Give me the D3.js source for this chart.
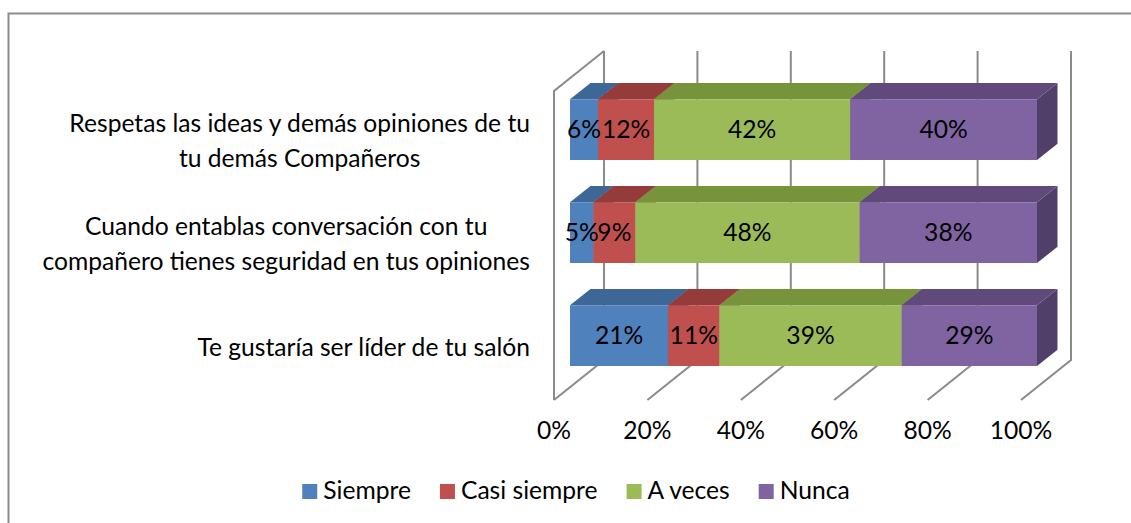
<!doctype html>
<html>
<head>
  <meta charset="utf-8">
  <style>
    body { margin:0; background:#fff; }
    svg text { font-family: Lato, Carlito, Calibri, "Noto Sans", sans-serif; fill:#000; }
  </style>
  <script src="https://d3js.org/d3.v7.min.js"></script>
</head>
<body>
  <script type="text/javascript">
    // chart values
    var categories = [
      "Respetas las ideas y demás opiniones de tu\ntu demás Compañeros",
      "Cuando entablas conversación con tu\ncompañero tienes seguridad en tus opiniones",
      "Te gustaría ser líder de tu salón"
    ];
    var seriesNames = ["Siempre", "Casi siempre", "A veces", "Nunca"];
    var siempre     = [6, 5, 21];
    var casiSiempre = [12, 9, 11];
    var aVeces      = [42, 48, 39];
    var nunca       = [40, 38, 29];
    var tickValues  = [0, 0.2, 0.4, 0.6, 0.8, 1];

    var frontColors = ["#4F81BD", "#C0504D", "#9BBB59", "#8064A2"];
    var topColors   = ["#3D6796", "#953C3A", "#77933C", "#604A7B"];
    var sideColors  = ["#395E8A", "#8A3735", "#6D8836", "#503F68"];

    var width = 1131, height = 523;

    var svg = d3.select("body")
      .append("svg")
        .attr("width", width)
        .attr("height", height);

    // chart border
    svg.append("rect")
      .attr("x", 8.5).attr("y", 13.5)
      .attr("width", 1200).attr("height", 600)
      .attr("fill", "none")
      .attr("stroke", "#8c8c8c")
      .attr("stroke-width", 2);

    // pick a font size so the text widths match the original (Calibri ~26px)
    var probe = svg.append("text").style("font-size", "25px")
      .text("compañero tienes seguridad en tus opiniones");
    var fs = 25 * 488 / probe.node().getComputedTextLength();
    probe.remove();

    // 3d frame: front plane and depth offset
    var DX = 50, DY = 40, Z1 = 0.32, Z2 = 0.73;
    var x = d3.scaleLinear().domain([0, 1]).range([554, 1021]);
    var y = d3.scaleBand().domain(d3.range(categories.length))
      .range([91, 400]).paddingInner(0.41).paddingOuter(0.205);
    var floorY = y.range()[1], topY = y.range()[0];

    function proj(v, yy, z) { return [x(v) + z * DX, yy - z * DY]; }

    var grid = svg.append("g")
      .attr("stroke", "#8a8a8a")
      .attr("stroke-width", 2)
      .attr("fill", "none");

    // left wall edges
    grid.append("polyline")
      .attr("points", [proj(0, floorY, 0), proj(0, topY, 0), proj(0, topY, 1)].join(" "));

    // back wall gridlines + floor lines
    tickValues.forEach(function(t) {
      grid.append("polyline")
        .attr("points", [proj(t, floorY, 0), proj(t, floorY, 1), proj(t, topY, 1)].join(" "));
    });

    // stacked data
    var table = categories.map(function(c, i) {
      return { cat: i, "Siempre": siempre[i], "Casi siempre": casiSiempre[i],
               "A veces": aVeces[i], "Nunca": nunca[i] };
    });
    var stacked = d3.stack().keys(seriesNames).offset(d3.stackOffsetExpand)(table);

    var bars = svg.append("g");
    categories.forEach(function(c, i) {
      var yt = y(i), yb = y(i) + y.bandwidth();
      stacked.forEach(function(s, k) {
        var v0 = s[i][0], v1 = s[i][1];
        var g = bars.append("g");
        g.append("polygon")
          .attr("fill", sideColors[k])
          .attr("points", [proj(v1, yt, Z1), proj(v1, yt, Z2), proj(v1, yb, Z2), proj(v1, yb, Z1)].join(" "));
        g.append("polygon")
          .attr("fill", topColors[k])
          .attr("points", [proj(v0, yt, Z1), proj(v1, yt, Z1), proj(v1, yt, Z2), proj(v0, yt, Z2)].join(" "));
        g.append("polygon")
          .attr("fill", frontColors[k])
          .attr("points", [proj(v0, yt, Z1), proj(v1, yt, Z1), proj(v1, yb, Z1), proj(v0, yb, Z1)].join(" "));
      });
    });

    // data labels
    categories.forEach(function(c, i) {
      var yc = y(i) + y.bandwidth() / 2;
      stacked.forEach(function(s, k) {
        var p = proj((s[i][0] + s[i][1]) / 2, yc, Z1);
        svg.append("text")
          .attr("x", p[0])
          .attr("y", p[1] + fs * 0.34)
          .attr("text-anchor", "middle")
          .style("font-size", fs + "px")
          .text(Math.round(s[i][1] * 100 - s[i][0] * 100) + "%");
      });
    });

    // x tick labels
    var fmt = d3.format(".0%");
    tickValues.forEach(function(t) {
      svg.append("text")
        .attr("x", x(t))
        .attr("y", 439)
        .attr("text-anchor", "middle")
        .style("font-size", fs + "px")
        .text(fmt(t));
    });

    // category labels, right aligned block with centred lines
    categories.forEach(function(c, i) {
      var lines = c.split("\n");
      var t = svg.append("text")
        .attr("text-anchor", "middle")
        .style("font-size", fs + "px");
      var spans = lines.map(function(l) { return t.append("tspan").text(l); });
      var maxW = d3.max(spans, function(sp) { return sp.node().getComputedTextLength(); });
      var cx = 530 - maxW / 2;
      var yc = y(i) + y.bandwidth() / 2;
      spans.forEach(function(sp, j) {
        sp.attr("x", cx)
          .attr("y", yc + (j - (lines.length - 1) / 2) * 35 + 7);
      });
    });

    // legend
    var legend = svg.append("g");
    var lx = 0;
    seriesNames.forEach(function(name, k) {
      var g = legend.append("g").attr("transform", "translate(" + lx + ",0)");
      g.append("rect")
        .attr("x", 0).attr("y", 484)
        .attr("width", 15).attr("height", 15)
        .attr("fill", frontColors[k]);
      var t = g.append("text")
        .attr("x", 21).attr("y", 498.5)
        .style("font-size", fs + "px")
        .text(name);
      lx += 21 + t.node().getComputedTextLength() + 29;
    });
    var legendW = lx - 29;
    legend.attr("transform", "translate(" + (576 - legendW / 2) + ",0)");
  </script>
</body>
</html>
